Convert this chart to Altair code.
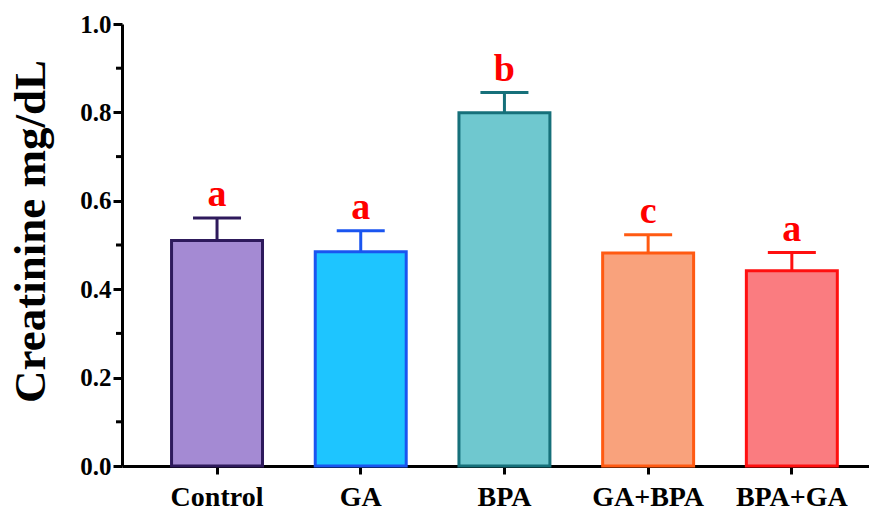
import altair as alt
import pandas as pd

groups = ["Control", "GA", "BPA", "GA+BPA", "BPA+GA"]
means = [0.510, 0.485, 0.799, 0.482, 0.442]
uppers = [0.561, 0.532, 0.845, 0.523, 0.483]
letters = ["a", "a", "b", "c", "a"]
minor_ticks = [0.1, 0.3, 0.5, 0.7, 0.9]

fills = ["#A48AD3", "#1EC5FF", "#6FC8CF", "#F9A27C", "#FA7C80"]
strokes = ["#2E1A5C", "#1A55F0", "#16707A", "#FF5A12", "#FF1010"]

df = pd.DataFrame({"group": groups, "mean": means, "upper": uppers, "letter": letters})
minor_df = pd.DataFrame({"v": minor_ticks})

FONT = "Liberation Serif"

xscale = alt.Scale(domain=groups, paddingInner=0.367, paddingOuter=0.2826, align=0.61)
yscale = alt.Scale(domain=[0, 1], nice=False)

x_enc = alt.X("group:N", scale=xscale, sort=groups, title=None,
              axis=alt.Axis(labelAngle=0, labelFont=FONT, labelFontWeight="bold",
                            labelFontSize=28, labelColor="black", labelPadding=9,
                            tickSize=8, tickWidth=3, tickColor="black",
                            domainWidth=3, domainColor="black"))
y_enc = alt.Y("mean:Q", scale=yscale, title="Creatinine mg/dL",
              axis=alt.Axis(values=[0, 0.2, 0.4, 0.6, 0.8, 1.0], format=".1f",
                            labelFont=FONT, labelFontWeight="bold", labelFontSize=25,
                            labelColor="black", labelPadding=2, grid=False,
                            tickSize=9, tickWidth=3, tickColor="black",
                            domainWidth=3, domainColor="black",
                            titleFont=FONT, titleFontWeight="bold", titleFontSize=45,
                            titleColor="black", titlePadding=26, titleY=207))

fill_scale = alt.Scale(domain=groups, range=fills)
stroke_scale = alt.Scale(domain=groups, range=strokes)

bars = alt.Chart(df).mark_bar(strokeWidth=3, opacity=1).encode(
    x=x_enc, y=y_enc,
    fill=alt.Fill("group:N", scale=fill_scale, legend=None),
    stroke=alt.Stroke("group:N", scale=stroke_scale, legend=None),
)

err = alt.Chart(df).mark_rule(strokeWidth=3).encode(
    x=alt.X("group:N", scale=xscale, sort=groups),
    y=alt.Y("mean:Q", scale=yscale),
    y2="upper:Q",
    color=alt.Color("group:N", scale=stroke_scale, legend=None),
)

caps = alt.Chart(df).mark_tick(size=48, thickness=3, orient="horizontal", opacity=1).encode(
    x=alt.X("group:N", scale=xscale, sort=groups),
    y=alt.Y("upper:Q", scale=yscale),
    color=alt.Color("group:N", scale=stroke_scale, legend=None),
)

labels = alt.Chart(df).mark_text(font=FONT, fontWeight="bold", fontSize=38, color="#FF0000",
                                 baseline="alphabetic", dy=-12).encode(
    x=alt.X("group:N", scale=xscale, sort=groups),
    y=alt.Y("upper:Q", scale=yscale),
    text="letter:N",
)

minor = alt.Chart(minor_df).mark_rule(strokeWidth=3, color="black").encode(
    y=alt.Y("v:Q", scale=yscale),
    x=alt.value(-6),
    x2=alt.value(0),
)

chart = alt.layer(bars, err, caps, labels, minor).properties(
    width=747, height=442,
    autosize=alt.AutoSizeParams(type="none"),
    padding={"left": 114, "top": 16, "right": 0, "bottom": 45},
).configure_view(stroke=None).configure_axis(grid=False)

chart.save("out.html", embed_options={"renderer": "svg", "actions": False})
